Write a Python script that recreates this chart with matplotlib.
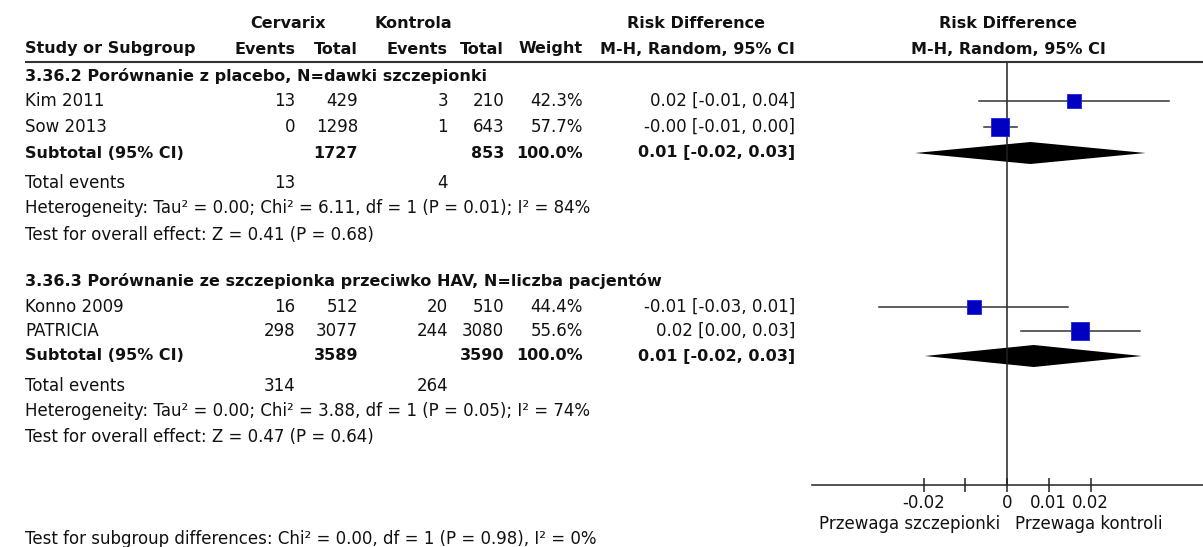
import matplotlib
matplotlib.use("Agg")
import matplotlib.pyplot as plt

# ---- data ----
group_titles = ["3.36.2 Porównanie z placebo, N=dawki szczepionki",
                "3.36.3 Porównanie ze szczepionka przeciwko HAV, N=liczba pacjentów"]
studies = [["Kim 2011", "Sow 2013"], ["Konno 2009", "PATRICIA"]]
cerv_events = [[13, 0], [16, 298]]
cerv_total = [[429, 1298], [512, 3077]]
ctrl_events = [[3, 1], [20, 244]]
ctrl_total = [[210, 643], [510, 3080]]
weights = [[42.3, 57.7], [44.4, 55.6]]
rd = [[0.0160, -0.0016], [-0.0080, 0.0176]]
rd_low = [[-0.0068, -0.0054], [-0.0306, 0.0034]]
rd_high = [[0.0388, 0.0023], [0.0147, 0.0319]]
sub_rd = [0.0056, 0.0064]
sub_low = [-0.0220, -0.0197]
sub_high = [0.0332, 0.0323]
heterogeneity = ["Heterogeneity: Tau² = 0.00; Chi² = 6.11, df = 1 (P = 0.01); I² = 84%",
                 "Heterogeneity: Tau² = 0.00; Chi² = 3.88, df = 1 (P = 0.05); I² = 74%"]
overall = ["Test for overall effect: Z = 0.41 (P = 0.68)",
           "Test for overall effect: Z = 0.47 (P = 0.64)"]
subgroup_test = "Test for subgroup differences: Chi² = 0.00, df = 1 (P = 0.98), I² = 0%"
tick_values = [-0.02, -0.01, 0, 0.01, 0.02]
tick_labels = ["-0.02", "", "0", "0.01", "0.02"]
favours = ["Przewaga szczepionki", "Przewaga kontroli"]

# ---- layout (pixel units) ----
W, H = 1203, 547
FS = 12.0       # regular text
FSB = 11.5      # bold text
plt.rcParams["font.family"] = ["DejaVu Sans"]

fig = plt.figure(figsize=(W / 100, H / 100), dpi=100)
ax = fig.add_axes([0, 0, 1, 1])
ax.set_xlim(0, W)
ax.set_ylim(H, 0)
ax.axis("off")

x_name = 25
x_ce, x_ct, x_ke, x_kt, x_w, x_ci = 295, 358, 448, 504, 583, 795
forest_left, zero_px, px_per_unit = 812, 1007, 4175

def txt(x, y, s, ha="left", bold=False):
    ax.text(x, y, s, ha=ha, va="center", fontsize=FSB if bold else FS,
            fontweight="bold" if bold else "normal", color="#111111")

# header
txt(288, 24, "Cervarix", "center", True)
txt(413, 24, "Kontrola", "center", True)
txt(696, 24, "Risk Difference", "center", True)
txt(1008, 24, "Risk Difference", "center", True)
txt(x_name, 49, "Study or Subgroup", bold=True)
for x, s in [(x_ce, "Events"), (x_ct, "Total"), (x_ke, "Events"),
             (x_kt, "Total"), (x_w, "Weight"), (x_ci, "M-H, Random, 95% CI")]:
    txt(x, 49, s, "right", True)
txt(1008, 49, "M-H, Random, 95% CI", "center", True)
ax.hlines(62, x_name, W, color="#333333", lw=1.5)

# forest axes
fax = fig.add_axes([forest_left / W, 0, (W - forest_left) / W, 1])
fax.set_xlim((forest_left - zero_px) / px_per_unit, (W - zero_px) / px_per_unit)
fax.set_ylim(H, 0)
fax.patch.set_alpha(0)
for side in ("left", "right", "top"):
    fax.spines[side].set_visible(False)
fax.spines["bottom"].set_position(("data", 485))
fax.spines["bottom"].set_color("#222222")
fax.spines["bottom"].set_linewidth(1.1)
fax.set_yticks([])
fax.set_xticks(tick_values)
fax.set_xticklabels(tick_labels, fontsize=FS, color="#111111")
fax.tick_params(axis="x", direction="inout", length=10.5, width=1.1,
                color="#222222", pad=1.5)
fax.vlines(0, 63, 485, color="#222222", lw=1.1)

fmt = lambda v, lo, hi: f"{v:.2f} [{lo:.2f}, {hi:.2f}]"

layout = [
    dict(title=76, rows=[101, 127], sub=153, te=183, het=208, ov=235),
    dict(title=281, rows=[307, 331], sub=356, te=386, het=411, ov=437),
]

for g, L in enumerate(layout):
    txt(x_name, L["title"], group_titles[g], bold=True)
    for i, y in enumerate(L["rows"]):
        txt(x_name, y, studies[g][i])
        txt(x_ce, y, str(cerv_events[g][i]), "right")
        txt(x_ct, y, str(cerv_total[g][i]), "right")
        txt(x_ke, y, str(ctrl_events[g][i]), "right")
        txt(x_kt, y, str(ctrl_total[g][i]), "right")
        txt(x_w, y, f"{weights[g][i]:.1f}%", "right")
        txt(x_ci, y, fmt(rd[g][i], rd_low[g][i], rd_high[g][i]), "right")
        fax.plot([rd_low[g][i], rd_high[g][i]], [y, y], color="#333333", lw=1.1)
        side_px = 0.31 * weights[g][i]
        fax.plot(rd[g][i], y, marker="s", ms=side_px * 0.72,
                 mfc="#0000c0", mec="#2020e0", mew=0.6, ls="none")
    ys = L["sub"]
    txt(x_name, ys, "Subtotal (95% CI)", bold=True)
    txt(x_ct, ys, str(sum(cerv_total[g])), "right", True)
    txt(x_kt, ys, str(sum(ctrl_total[g])), "right", True)
    txt(x_w, ys, f"{sum(weights[g]):.1f}%", "right", True)
    txt(x_ci, ys, fmt(sub_rd[g], sub_low[g], sub_high[g]), "right", True)
    fax.fill([sub_low[g], sub_rd[g], sub_high[g], sub_rd[g]],
             [ys, ys - 11, ys, ys + 11], color="black", lw=0)
    txt(x_name, L["te"], "Total events")
    txt(x_ce, L["te"], str(sum(cerv_events[g])), "right")
    txt(x_ke, L["te"], str(sum(ctrl_events[g])), "right")
    txt(x_name, L["het"], heterogeneity[g])
    txt(x_name, L["ov"], overall[g])

txt(1000, 524, favours[0], "right")
txt(1015, 524, favours[1], "left")
ax.text(x_name, 530, subgroup_test, ha="left", va="top", fontsize=FS, color="#111111")

fig.savefig("out.png", dpi=100)
